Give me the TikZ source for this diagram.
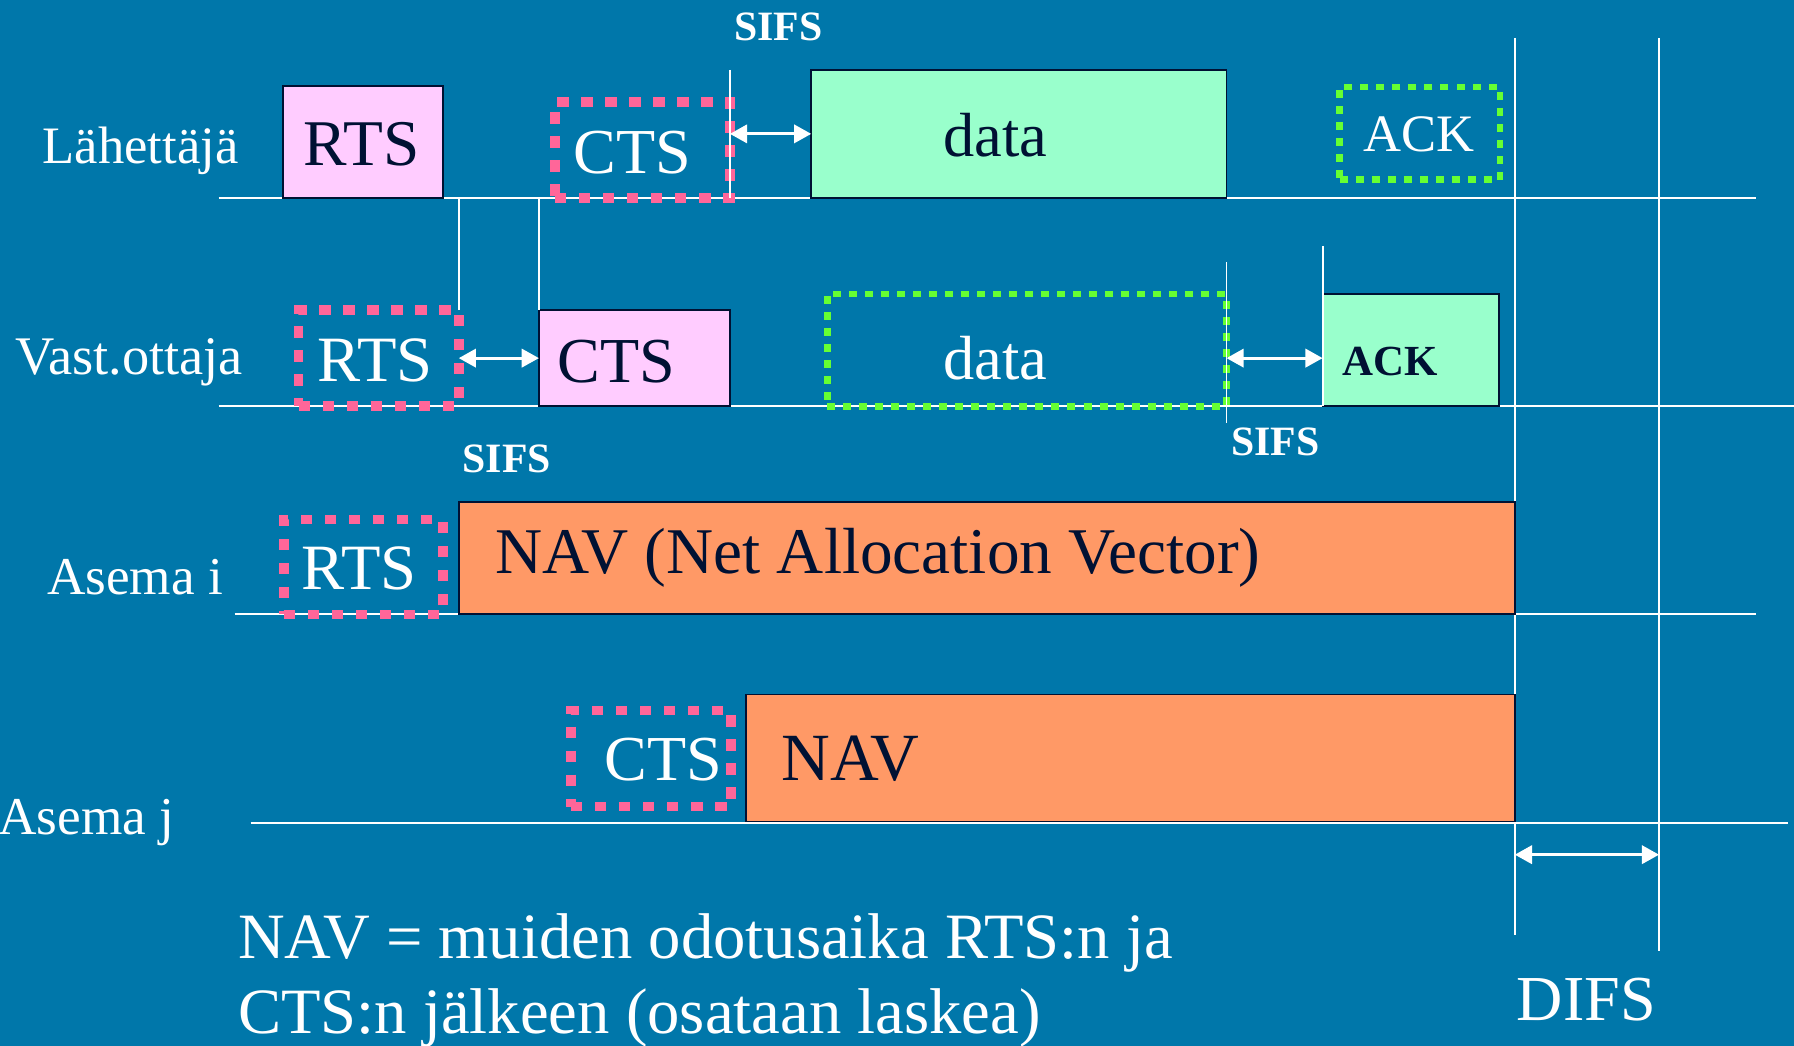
\documentclass[tikz,border=0pt]{standalone}
\usepackage{fontspec}
\setmainfont{Liberation Serif}
\usetikzlibrary{arrows.meta}
\definecolor{bg}{HTML}{0077AA}
\definecolor{navy}{HTML}{001133}
\definecolor{rosa}{HTML}{FFCCFF}
\definecolor{dotpink}{HTML}{FF6699}
\definecolor{mint}{HTML}{99FFCC}
\definecolor{lime}{HTML}{66FF33}
\definecolor{navorange}{HTML}{FF9966}
\newcommand{\fsz}[1]{\fontsize{#1}{#1}\selectfont}

\begin{document}
\begin{tikzpicture}[x=1pt,y=-1pt,
  tline/.style={white, line width=1.6pt},
  pinkbox/.style={fill=rosa, draw=navy, line width=1.6pt, inner sep=0pt, outer sep=0pt, anchor=north west},
  mintbox/.style={pinkbox, fill=mint},
  navbox/.style={pinkbox, fill=navorange},
  pinkdots/.style={draw=dotpink, line width=8.5pt, dash pattern=on 10pt off 11pt, inner sep=0pt, outer sep=0pt, anchor=north west},
  greendots/.style={pinkdots, draw=lime, line width=6pt, dash pattern=on 7pt off 7pt},
  lbl/.style={white, inner sep=0pt, anchor=base},
  dlbl/.style={lbl, navy},
  sifs/.style={lbl, font=\fsz{36.5}\bfseries},
  gap/.style={white, line width=2.5pt, {Triangle[length=15pt,width=16pt]}-{Triangle[length=15pt,width=16pt]}}]
% background
\fill[bg] (0,0) rectangle (1568,914);
\useasboundingbox (0,0) rectangle (1568,914);

% time lines
\foreach \y/\a/\b in {173/191/1535, 355/191/1568, 537/205/1535, 719/219/1563}
  \draw[tline] (\a,\y) -- (\b,\y);
\foreach \x/\b in {1324/817, 1450/831}
  \draw[tline] (\x,33) -- (\x,\b);

% Lahettaja
\node[lbl, anchor=base west, font=\fsz{46}] (lname) at (37,143) {Lähettäjä};
\node[pinkbox, minimum width=140pt, minimum height=98pt] (lrts) at (247,75) {};
\node[dlbl, font=\fsz{57}] at (316,145) {RTS};
\node[pinkdots, minimum width=153pt, minimum height=84pt] (lcts) at (485,89) {};
\node[lbl, font=\fsz{56}] at (553,151.5) {CTS};
\node[mintbox, minimum width=363pt, minimum height=112pt] (ldata) at (709,61) {};
\node[dlbl, font=\fsz{54.5}] at (870,137) {data};
\node[greendots, minimum width=140pt, minimum height=81pt] (lack) at (1171,76) {};
\node[lbl, font=\fsz{46}] at (1240,132) {ACK};
\draw[tline] (lcts.south east |- ldata.north) -- (lcts.south east);
\draw[gap] (lcts.east |- ldata.west) -- (ldata.west);
\node[sifs] at (680.5,35) {SIFS};

% Vast.ottaja
\node[lbl, anchor=base west, font=\fsz{47.5}] (vname) at (13,327) {Vast.ottaja};
\node[pinkdots, minimum width=140pt, minimum height=84pt] (vrts) at (261,271) {};
\node[lbl, font=\fsz{56.5}] at (328,333) {RTS};
\node[pinkbox, minimum width=167pt, minimum height=84pt] (vcts) at (471,271) {};
\node[dlbl, font=\fsz{56}] at (539,334) {CTS};
\node[greendots, minimum width=349pt, minimum height=98pt] (vdata) at (723,257) {};
\node[lbl, font=\fsz{54.5}] at (870,332) {data};
\node[mintbox, minimum width=154pt, minimum height=98pt] (vack) at (1156,257) {};
\node[dlbl, font=\fsz{37.5}\bfseries] at (1215,328.6) {ACK};
\draw[tline] (vrts.north east |- lrts.south) -- (vrts.north east);
\draw[tline] (vcts.north west |- lrts.south) -- (vcts.north west);
\draw[tline] ([yshift=28pt]vdata.north east) -- ([yshift=-15pt]vdata.south east);
\draw[tline] ([yshift=42pt]vack.north west) -- (vack.south west);
\draw[gap] (vrts.east) -- (vcts.west);
\draw[gap] ([yshift=-7pt]vdata.east) -- ([yshift=-7pt]vack.west);
\node[sifs] at (443,413) {SIFS};
\node[sifs] at (1114.5,398) {SIFS};

% Asema i
\node[lbl, anchor=base west, font=\fsz{46.5}] (iname) at (41,520) {Asema i};
\node[pinkdots, minimum width=139pt, minimum height=83pt] (irts) at (248,454) {};
\node[lbl, font=\fsz{56.5}] at (314,515) {RTS};
\node[navbox, minimum width=923pt, minimum height=98pt] (inav) at (401,439) {};
\node[dlbl, anchor=base west, font=\fsz{57}] at (433,501) {NAV (Net Allocation Vector)};

% Asema j
\node[lbl, anchor=base west, font=\fsz{46.5}] (jname) at (-1.5,729) {Asema j};
\node[pinkdots, minimum width=140pt, minimum height=84pt] (jcts) at (499,621) {};
\node[lbl, font=\fsz{56}] at (580,682) {CTS};
\node[navbox, minimum width=672pt, minimum height=111pt] (jnav) at (652,607) {};
\node[dlbl, anchor=base west, font=\fsz{59}] at (683,682) {NAV};

% DIFS
\coordinate (d1) at (1324,747);
\coordinate (d2) at (1450,747);
\draw[gap] (d1) -- (d2);
\node[lbl, font=\fsz{56}] (difs) at (1386.5,891.6) {DIFS};

% selitys
\node[lbl, anchor=base west, align=left, font=\fsz{56.5}] (note) at (208,903)
  {NAV = muiden odotusaika RTS:n ja\\[9pt]CTS:n jälkeen (osataan laskea)};
\end{tikzpicture}
\end{document}
